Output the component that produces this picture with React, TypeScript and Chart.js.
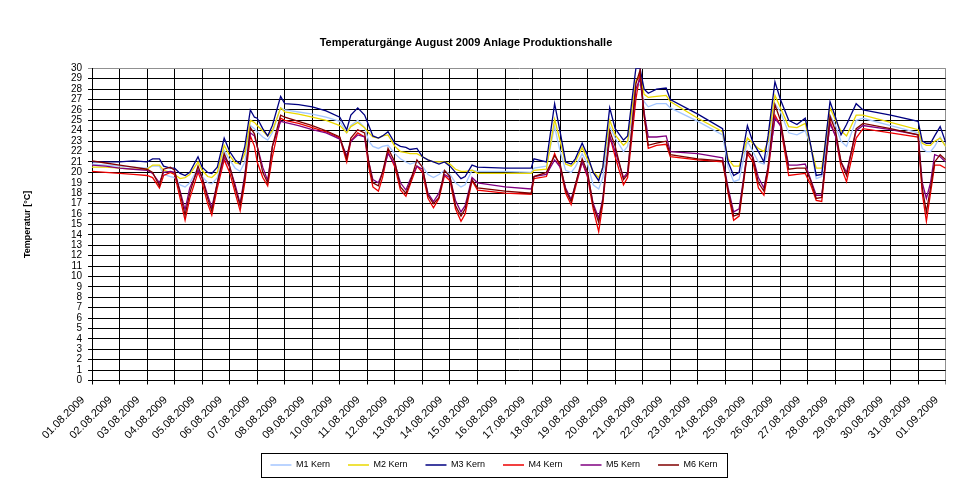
import { useEffect, useRef } from 'react';
import { Chart, registerables } from 'chart.js';

Chart.register(...registerables);

const FONT = "'Liberation Sans', Arial, sans-serif";
const TITLE = 'Temperaturgänge August 2009 Anlage Produktionshalle';
const Y_TITLE = 'Temperatur [°C]';

const DATES = [
  '01.08.2009', '02.08.2009', '03.08.2009', '04.08.2009', '05.08.2009', '06.08.2009', '07.08.2009', '08.08.2009',
  '09.08.2009', '10.08.2009', '11.08.2009', '12.08.2009', '13.08.2009', '14.08.2009', '15.08.2009', '16.08.2009',
  '17.08.2009', '18.08.2009', '19.08.2009', '20.08.2009', '21.08.2009', '22.08.2009', '23.08.2009', '24.08.2009',
  '25.08.2009', '26.08.2009', '27.08.2009', '28.08.2009', '29.08.2009', '30.08.2009', '31.08.2009', '01.09.2009',
];

const SERIES_NAMES = ['M1 Kern', 'M2 Kern', 'M3 Kern', 'M4 Kern', 'M5 Kern', 'M6 Kern'];

// time in days since 01.08.2009 00:00
const TIMES = [
  0.0, 0.5, 1.0, 1.5, 2.0, 2.2, 2.45, 2.6, 2.85, 3.0,
  3.2, 3.38, 3.55, 3.85, 4.0, 4.2, 4.35, 4.55, 4.8, 5.0,
  5.2, 5.38, 5.55, 5.75, 5.9, 6.0, 6.2, 6.38, 6.55, 6.85,
  7.0, 7.5, 8.0, 8.5, 9.0, 9.25, 9.4, 9.65, 9.9, 10.05,
  10.2, 10.4, 10.55, 10.75, 11.0, 11.2, 11.4, 11.55, 11.8, 12.0,
  12.2, 12.4, 12.6, 12.8, 13.0, 13.2, 13.4, 13.55, 13.8, 14.0,
  15.0, 15.95, 16.05, 16.5, 16.8, 17.0, 17.2, 17.4, 17.55, 17.8,
  18.0, 18.2, 18.4, 18.55, 18.8, 19.0, 19.3, 19.45, 19.75, 19.9,
  20.05, 20.2, 20.5, 20.85, 21.0, 22.0, 22.9, 23.1, 23.3, 23.5,
  23.8, 24.0, 24.2, 24.4, 24.55, 24.8, 25.0, 25.3, 25.6, 25.9,
  26.1, 26.3, 26.5, 26.8, 27.0, 27.2, 27.4, 27.75, 28.0, 29.0,
  30.0, 30.15, 30.3, 30.45, 30.6, 30.8, 31.0,
];

const M1 = [
  20.8, 20.7, 20.6, 20.5, 20.4, 20.6, 20.6, 19.8, 19.6, 19.5,
  18.8, 18.6, 19.0, 20.4, 19.6, 19.0, 18.9, 19.5, 22.1, 21.2,
  20.4, 20.1, 21.0, 24.5, 24.2, 23.9, 23.4, 23.1, 23.8, 26.2,
  26.0, 25.8, 25.6, 25.3, 24.9, 23.8, 24.5, 25.0, 24.3, 23.0,
  22.5, 22.3, 22.5, 22.6, 21.8, 21.3, 21.0, 20.8, 21.0, 20.6,
  19.8, 19.5, 19.8, 20.2, 19.8, 19.0, 18.6, 18.8, 20.2, 20.1,
  20.1, 20.0, 20.4, 20.6, 24.4, 22.0, 20.2, 20.0, 20.5, 21.8,
  20.8, 18.8, 18.4, 19.5, 24.4, 23.3, 22.0, 22.5, 28.0, 28.5,
  26.8, 26.3, 26.6, 26.6, 26.2, 24.9, 23.6, 20.5, 19.1, 19.3,
  23.0, 22.0, 21.0, 20.8, 22.0, 26.6, 25.8, 23.8, 23.6, 24.0,
  22.5, 19.4, 19.6, 25.5, 24.5, 23.0, 22.5, 25.0, 25.2, 24.5,
  23.8, 22.3, 22.0, 22.0, 22.5, 23.4, 22.5,
];

const M2 = [
  20.5, 20.5, 20.4, 20.3, 20.3, 20.7, 20.7, 20.2, 20.0, 19.8,
  19.4, 19.5, 19.8, 21.0, 20.2, 19.6, 19.5, 20.0, 22.6, 21.6,
  20.9, 20.8, 21.8, 25.0, 24.8, 24.5, 24.0, 23.5, 24.0, 26.2,
  25.8, 25.6, 25.3, 25.0, 24.5, 23.8, 24.4, 24.8, 24.3, 23.8,
  23.4, 23.3, 23.5, 23.6, 22.5, 22.0, 21.9, 21.8, 21.8, 21.5,
  21.2, 21.0, 21.0, 21.0, 20.8, 20.3, 20.1, 20.1, 20.2, 19.9,
  19.9, 19.9, 20.2, 20.3, 25.1, 23.0, 20.8, 20.6, 21.0, 22.4,
  21.2, 20.1, 19.5, 20.5, 25.0, 23.6, 22.6, 23.0, 28.8, 29.3,
  27.5, 27.2, 27.3, 27.4, 26.8, 25.2, 23.9, 21.3, 20.6, 20.6,
  23.3, 22.8, 22.3, 22.0, 23.0, 27.4, 26.2, 24.4, 24.3, 24.7,
  22.5, 20.4, 20.4, 26.2, 25.0, 24.0, 23.5, 25.5, 25.5, 24.8,
  24.1, 22.8, 22.6, 22.6, 23.0, 23.3, 22.5,
];

const M3 = [
  21.0, 21.0, 21.0, 21.1, 21.0, 21.3, 21.3, 20.6, 20.4, 20.4,
  19.9, 19.7, 20.0, 21.5, 20.5, 20.0, 19.9, 20.5, 23.3, 22.0,
  21.2, 20.8, 22.5, 26.0, 25.3, 25.2, 24.2, 23.5, 24.5, 27.3,
  26.6, 26.5, 26.3, 25.9, 25.3, 24.1, 25.5, 26.2, 25.5, 24.5,
  23.5, 23.3, 23.5, 23.9, 22.8, 22.5, 22.4, 22.2, 22.3, 21.5,
  21.2, 21.0, 20.8, 21.0, 20.6, 20.0, 19.4, 19.6, 20.7, 20.5,
  20.4, 20.4, 21.3, 21.0, 26.6, 23.9, 21.0, 20.8, 21.3, 22.8,
  21.6, 20.0, 19.2, 20.5, 26.2, 24.2, 23.1, 23.5, 30.0, 30.0,
  28.0, 27.6, 28.0, 28.1, 27.0, 25.6, 24.2, 21.0, 19.7, 20.0,
  24.5, 22.9, 22.0, 21.0, 23.5, 28.7, 27.0, 25.0, 24.6, 25.2,
  22.6, 19.7, 19.8, 26.8, 25.3, 23.6, 24.6, 26.6, 26.0, 25.5,
  24.9, 23.0, 22.8, 22.8, 23.5, 24.4, 22.9,
];

const M4 = [
  20.1, 20.0, 19.9, 19.8, 19.7, 19.5, 18.5, 19.7, 20.0, 19.8,
  17.5, 15.4, 17.5, 20.0, 19.0, 17.0, 15.9, 18.5, 21.2, 20.0,
  18.0, 16.3, 19.0, 23.5, 22.5, 21.0, 19.5, 18.7, 21.5, 25.2,
  25.0, 24.7, 24.3, 23.9, 23.3, 21.0, 23.0, 23.8, 23.4, 20.5,
  18.6, 18.2, 19.5, 22.0, 20.5, 18.3, 17.7, 18.8, 20.6, 20.0,
  17.5, 16.6, 17.5, 19.7, 19.2, 16.5, 15.3, 16.0, 19.2, 18.3,
  18.0, 17.9, 19.4, 19.6, 21.8, 20.5, 18.0, 16.9, 18.5, 21.0,
  19.5, 16.5, 14.3, 17.0, 23.5, 21.5, 18.8, 19.5, 27.0, 29.5,
  25.5, 22.3, 22.6, 22.7, 21.5, 21.2, 21.0, 18.0, 15.4, 15.8,
  21.8, 21.0, 18.5, 17.8, 20.0, 25.5, 24.5, 19.7, 19.8, 19.9,
  18.8, 17.3, 17.2, 24.9, 23.5, 20.5, 19.1, 23.3, 24.2, 23.8,
  23.4, 18.0, 15.3, 18.0, 20.7, 20.7, 20.4,
];

const M5 = [
  20.7, 20.6, 20.4, 20.3, 20.2, 19.9, 19.0, 20.0, 20.1, 20.0,
  18.2, 16.4, 18.5, 20.2, 19.5, 17.8, 16.6, 19.0, 21.5, 20.5,
  18.8, 17.0, 19.8, 23.8, 23.5, 22.5, 20.5, 19.2, 22.5, 24.9,
  24.8, 24.5, 24.1, 23.8, 23.2, 21.6, 23.0, 23.6, 23.4, 21.0,
  19.3, 19.0, 20.0, 21.8, 20.8, 19.0, 18.3, 19.3, 20.6, 20.3,
  18.0, 17.2, 18.0, 19.8, 19.5, 17.3, 16.2, 16.8, 19.5, 19.0,
  18.6, 18.4, 19.6, 19.8, 21.2, 20.5, 18.5, 17.4, 18.8, 21.0,
  19.7, 17.0, 15.6, 17.5, 23.5, 22.0, 19.5, 20.0, 28.0, 29.0,
  25.8, 23.4, 23.4, 23.5, 22.0, 21.8, 21.4, 18.5, 16.2, 16.5,
  22.0, 21.5, 19.5, 18.5, 20.5, 25.2, 24.5, 20.7, 20.7, 20.8,
  19.3, 17.8, 17.8, 24.7, 23.5, 21.0, 20.0, 24.0, 24.5, 24.1,
  23.6, 19.0, 17.5, 19.0, 21.7, 21.5, 21.0,
];

const M6 = [
  21.1, 20.9, 20.7, 20.5, 20.3, 20.0, 18.7, 20.3, 20.5, 20.2,
  18.0, 15.9, 18.0, 20.6, 19.5, 17.5, 16.3, 19.0, 21.8, 20.6,
  18.5, 16.8, 19.5, 24.3, 23.7, 22.5, 20.0, 19.0, 22.5, 25.5,
  25.3, 24.9, 24.5, 24.0, 23.4, 21.3, 23.3, 24.1, 23.8, 21.0,
  19.0, 18.7, 20.0, 22.3, 21.0, 18.6, 18.0, 19.0, 21.2, 20.5,
  17.8, 17.0, 17.6, 20.2, 19.6, 16.8, 15.8, 16.5, 19.3, 18.5,
  18.2, 18.0, 19.6, 20.0, 21.6, 20.8, 18.3, 17.2, 18.8, 21.3,
  20.0, 16.8, 15.2, 17.3, 24.0, 22.5, 19.3, 19.8, 28.5, 29.8,
  25.5, 22.6, 22.8, 23.0, 21.7, 21.3, 21.1, 18.3, 15.8, 16.0,
  22.0, 21.4, 19.0, 18.2, 20.5, 26.5, 25.0, 20.3, 20.4, 20.4,
  19.2, 17.5, 17.6, 25.4, 24.0, 21.0, 19.7, 24.2, 24.7, 24.2,
  23.6, 18.5, 16.2, 18.5, 21.0, 21.7, 21.2,
];

const SERIES_VALUES = [M1, M2, M3, M4, M5, M6];
const SERIES_COLORS = ['#A4C6FF', '#EAD800', '#000080', '#EE0000', '#800080', '#800000'];

const layoutTweaks = {
  id: 'layoutTweaks',
  afterLayout(chart: any) {
    const t = chart.titleBlock;
    if (t) {
      t.left -= 19;
      t.right -= 19;
    }
    const l = chart.legend;
    if (l) {
      l.left += 9;
      l.right += 9;
    }
  },
  afterDraw(chart: any) {
    const l = chart.legend;
    if (!l || !l.legendHitBoxes || !l.legendHitBoxes.length) return;
    const boxes = l.legendHitBoxes;
    const first = boxes[0];
    const last = boxes[boxes.length - 1];
    const cy = first.top + first.height / 2;
    const ctx = chart.ctx;
    ctx.save();
    ctx.strokeStyle = '#000';
    ctx.lineWidth = 1;
    const x0 = Math.round(first.left - 9) + 0.5;
    const x1 = Math.round(last.left + last.width + 9) + 0.5;
    const y0 = Math.round(cy - 12) + 0.5;
    const y1 = Math.round(cy + 12) + 0.5;
    ctx.strokeRect(x0, y0, x1 - x0, y1 - y0);
    ctx.restore();
  },
};

export default function App() {
  const ref = useRef<HTMLCanvasElement>(null);

  useEffect(() => {
    const canvas = ref.current;
    if (!canvas) return;
    const datasets = SERIES_NAMES.map((name, i) => ({
      label: name,
      data: TIMES.map((t, j) => ({ x: t, y: SERIES_VALUES[i][j] })),
      borderColor: SERIES_COLORS[i],
      backgroundColor: SERIES_COLORS[i],
      borderWidth: 1.3,
      pointRadius: 0,
      tension: 0,
      fill: false,
      order: 5 - i,
    }));

    const chart = new Chart(canvas, {
      type: 'line',
      data: { datasets },
      options: {
        responsive: false,
        animation: false,
        devicePixelRatio: 1,
        layout: { padding: { left: 22, right: 16, top: 0, bottom: 11.5 } },
        plugins: {
          title: {
            display: true,
            text: TITLE,
            color: '#000',
            font: { family: FONT, size: 11, weight: 'bold' },
            padding: { top: 36.4, bottom: 18.7 },
          },
          legend: {
            position: 'bottom',
            labels: {
              usePointStyle: true,
              pointStyle: 'line',
              pointStyleWidth: 21,
              boxHeight: 9,
              color: '#000',
              font: { family: FONT, size: 9 },
              padding: 18,
              sort: (a: any, b: any) => a.datasetIndex - b.datasetIndex,
            },
          },
          tooltip: { enabled: false },
        },
        scales: {
          x: {
            type: 'linear',
            min: 0,
            max: 31,
            ticks: {
              stepSize: 1,
              autoSkip: false,
              maxRotation: 45,
              minRotation: 45,
              color: '#000',
              font: { family: FONT, size: 11 },
              padding: 9,
              labelOffset: -9,
              callback: (v: any) => DATES[v as number] ?? '',
            },
            grid: {
              color: (c: any) => (c.tick && c.tick.value === 31 ? '#909090' : '#000'),
              lineWidth: 1,
              tickLength: 4,
            },
            border: { color: '#000', width: 1 },
            afterFit: (s: any) => {
              s.height = 62;
            },
          },
          y: {
            min: 0,
            max: 30,
            ticks: {
              stepSize: 1,
              autoSkip: false,
              color: '#000',
              font: { family: FONT, size: 10 },
              padding: 6,
            },
            grid: {
              color: (c: any) => (c.tick && c.tick.value === 30 ? '#909090' : '#000'),
              lineWidth: 1,
              tickLength: 4,
            },
            border: { color: '#000', width: 1 },
            title: {
              display: true,
              text: Y_TITLE,
              color: '#000',
              font: { family: FONT, size: 9, weight: 'bold' },
              padding: { top: 0, bottom: 0 },
            },
            afterFit: (s: any) => {
              s.width = 70;
            },
          },
        },
      },
      plugins: [layoutTweaks],
    } as any);

    return () => chart.destroy();
  }, []);

  return (
    <div style={{ position: 'absolute', left: 0, top: 0, width: 964, height: 491, background: '#fff' }}>
      <canvas ref={ref} width={964} height={491} style={{ display: 'block' }} />
    </div>
  );
}
